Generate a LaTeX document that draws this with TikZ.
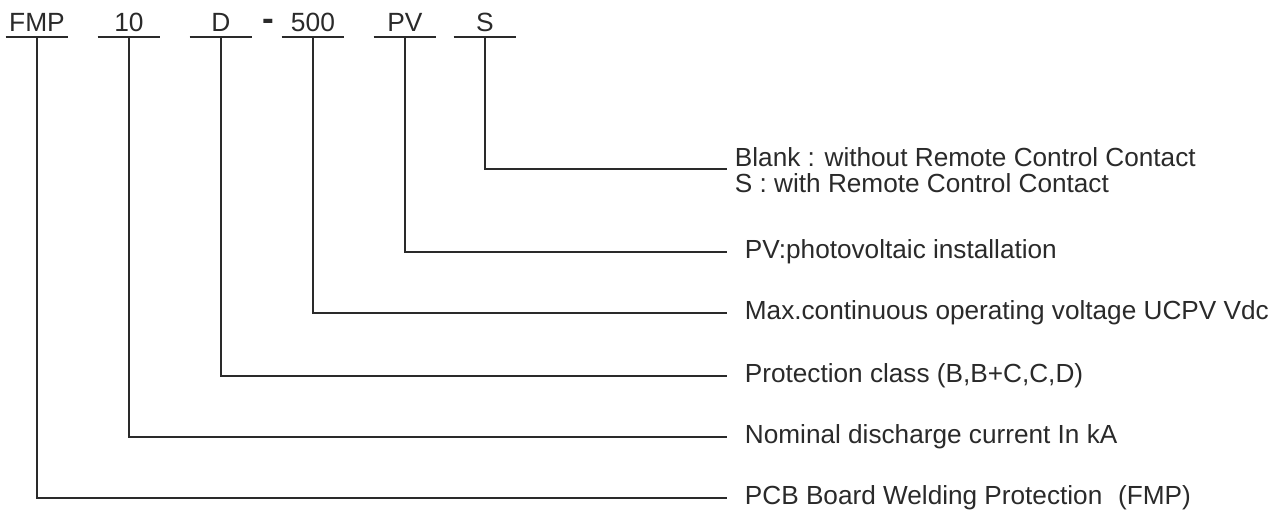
\documentclass[tikz,border=0pt]{standalone}
\usepackage{fontspec}
\setmainfont{Liberation Sans}
\usepackage{tikz}
\usetikzlibrary{positioning}
\definecolor{inkgray}{HTML}{2A2A2A}
\tikzstyle{connector} = [line width=0.8pt, draw=inkgray]
\tikzstyle{code} = [text=inkgray, font=\fontsize{15}{17}\selectfont, minimum width=1.24cm, inner xsep=0pt, inner ysep=3pt, text height=10.5pt, text depth=0pt]
\tikzstyle{lbl} = [text=inkgray, font=\fontsize{14.9}{15.2}\selectfont, anchor=west, align=left, inner xsep=10pt]

\begin{document}
\begin{tikzpicture}[x=0.02cm, y=-0.02cm, node distance=1.84cm]
                \useasboundingbox (0,0) rectangle (1275,511);

                \node (fmp) [code, anchor=south] at (37,37) {FMP};
                \node (ka) [code, right of=fmp] {10};
                \node (cls) [code, right of=ka] {D};
                \node (volt) [code, right of=cls] {500};
                \node (pv) [code, right of=volt] {PV};
                \node (rc) [code, node distance=1.6cm, right of=pv] {S};
                \node (hyph) [text=inkgray, font=\bfseries\fontsize{20}{20}\selectfont, inner sep=0pt] at (268,25) {-};

                \node (lrc) [lbl, xshift=-0.2cm] at (727,170) {Blank : without Remote Control Contact\\S : with Remote Control Contact};
                \node (lpv) [lbl] at (727,252) {PV:photovoltaic installation};
                \node (lvolt) [lbl] at (727,313) {Max.continuous operating voltage UCPV Vdc};
                \node (lcls) [lbl] at (727,376) {Protection class (B,B+C,C,D)};
                \node (lka) [lbl] at (727,437) {Nominal\ discharge\ current\ In\ kA};
                \node (lfmp) [lbl] at (727,498) {PCB Board Welding Protection\hspace{0.6em}(FMP)};

                % underlines
                \foreach \n in {fmp,ka,cls,volt,pv,rc}
                    \draw [connector] (\n.south west) -- (\n.south east);

                \draw [connector] (rc.south) |- ([xshift=0.2cm, yshift=0.02cm]lrc.west);
                \draw [connector] (pv.south) |- (lpv.west);
                \draw [connector] (volt.south) |- (lvolt.west);
                \draw [connector] (cls.south) |- (lcls.west);
                \draw [connector] (ka.south) |- (lka.west);
                \draw [connector] (fmp.south) |- (lfmp.west);
            \end{tikzpicture}
\end{document}
